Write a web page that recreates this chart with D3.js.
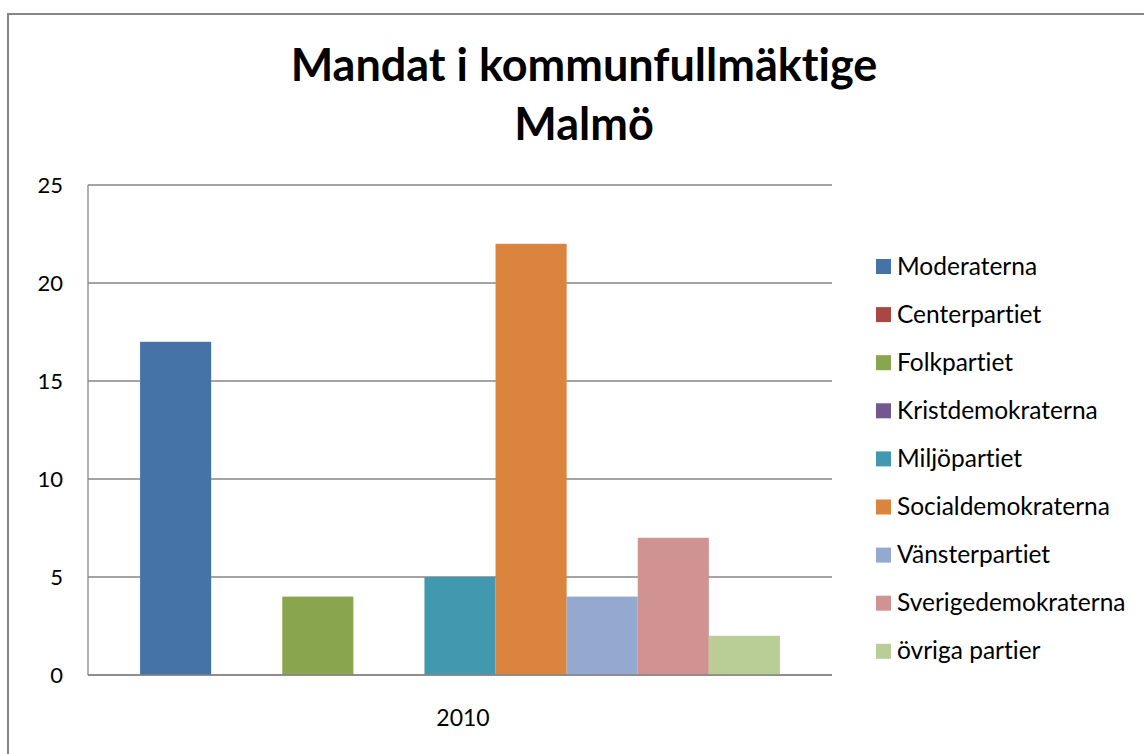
<!DOCTYPE html>
<html lang="en">
<head>
<meta charset="UTF-8">
<title>Mandat i kommunfullmäktige Malmö</title>
<script src="https://d3js.org/d3.v7.min.js"></script>
<style>
  body { margin: 0; background: #fff; }
  svg text { font-family: Lato, "Open Sans", sans-serif; fill: #000; font-variant-ligatures: none; }
</style>
</head>
<body>
<svg id="chart" width="1144" height="754"></svg>
<script>
// data
const categories = ["2010"];
const parties = ["Moderaterna", "Centerpartiet", "Folkpartiet", "Kristdemokraterna", "Miljöpartiet",
                 "Socialdemokraterna", "Vänsterpartiet", "Sverigedemokraterna", "övriga partier"];
const seats2010 = [17, 0, 4, 0, 5, 22, 4, 7, 2];
const colors = ["#4572a7", "#aa4643", "#89a54e", "#71588f", "#4198af",
                "#db843d", "#93a9cf", "#d19392", "#b9cd96"];
const yTicks = [0, 5, 10, 15, 20, 25];

const svg = d3.select("#chart");

// outer chart border
svg.append("rect")
  .attr("x", 8).attr("y", 14)
  .attr("width", 1144).attr("height", 760)
  .attr("fill", "#fff")
  .attr("stroke", "#868686").attr("stroke-width", 2);

// title
const title = svg.append("text")
  .attr("text-anchor", "middle")
  .attr("font-weight", "bold")
  .attr("font-size", 45);
title.append("tspan").attr("x", 584).attr("y", 81).text("Mandat i kommunfullmäktige");
title.append("tspan").attr("x", 584).attr("y", 140).text("Malmö");

const plot = { left: 88, right: 832, top: 185, bottom: 675 };

const x0 = d3.scaleBand().domain(categories).range([plot.left, plot.right]).paddingInner(0).paddingOuter(0);
const x1 = d3.scaleBand().domain(parties).range([x0.bandwidth() * 0.07, x0.bandwidth() * 0.93]);
const y = d3.scaleLinear().domain([0, 25]).range([plot.bottom, plot.top]);

// gridlines
svg.append("g")
  .selectAll("line")
  .data(yTicks)
  .join("line")
  .attr("x1", plot.left).attr("x2", plot.right)
  .attr("y1", d => y(d)).attr("y2", d => y(d))
  .attr("stroke", "#868686").attr("stroke-width", 1.3);

// y axis line
svg.append("line")
  .attr("x1", plot.left).attr("x2", plot.left)
  .attr("y1", plot.top).attr("y2", plot.bottom)
  .attr("stroke", "#868686").attr("stroke-width", 1.3);

// bars
const groups = svg.append("g")
  .selectAll("g")
  .data(categories)
  .join("g")
  .attr("transform", d => `translate(${x0(d)},0)`);

groups.selectAll("rect")
  .data(() => parties.map((p, i) => ({ party: p, value: seats2010[i], color: colors[i] })))
  .join("rect")
  .attr("x", d => x1(d.party))
  .attr("width", x1.bandwidth())
  .attr("y", d => y(d.value))
  .attr("height", d => y(0) - y(d.value))
  .attr("fill", d => d.color);

// x axis line on top of bars
svg.append("line")
  .attr("x1", plot.left).attr("x2", plot.right)
  .attr("y1", plot.bottom).attr("y2", plot.bottom)
  .attr("stroke", "#868686").attr("stroke-width", 1.3);

// y tick labels
svg.append("g")
  .selectAll("text")
  .data(yTicks)
  .join("text")
  .attr("x", 63).attr("y", d => y(d))
  .attr("dy", "0.35em")
  .attr("text-anchor", "end")
  .attr("font-size", 22)
  .text(d => d);

// category label
svg.append("g")
  .selectAll("text")
  .data(categories)
  .join("text")
  .attr("x", d => x0(d) + x0.bandwidth() / 2 + 3)
  .attr("y", 726)
  .attr("text-anchor", "middle")
  .attr("font-size", 23)
  .text(d => d);

// legend
const legend = svg.append("g")
  .selectAll("g")
  .data(parties)
  .join("g")
  .attr("transform", (d, i) => `translate(876,${266 + i * 48.1})`);

legend.append("rect")
  .attr("x", 0).attr("y", -7)
  .attr("width", 15).attr("height", 15)
  .attr("fill", (d, i) => colors[i]);

legend.append("text")
  .attr("x", 21).attr("y", 0)
  .attr("dy", "0.35em")
  .attr("font-size", 24.5)
  .text(d => d);
</script>
</body>
</html>
